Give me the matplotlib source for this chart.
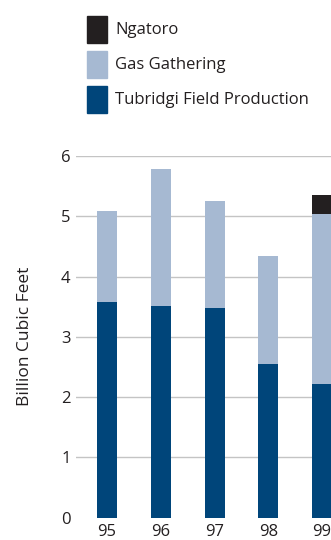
import matplotlib
matplotlib.use("Agg")
import matplotlib.pyplot as plt
from matplotlib.patches import Rectangle

years = ["95", "96", "97", "98", "99"]
tubridgi = [3.57, 3.51, 3.47, 2.54, 2.22]
gas_gathering = [1.52, 2.27, 1.78, 1.80, 2.81]
ngatoro = [0.0, 0.0, 0.0, 0.0, 0.32]
yticks = [0, 1, 2, 3, 4, 5, 6]

c_tub = "#00457a"
c_gas = "#a6b9d2"
c_nga = "#231f20"

plt.rcParams['font.family'] = ['Open Sans', 'DejaVu Sans']

W, H = 331, 540
fig = plt.figure(figsize=(W / 100, H / 100), dpi=100)
ax = fig.add_axes([76 / W, 22.5 / H, 1 - 76 / W, (517.5 - 156) / H])

x = list(range(len(years)))
w = 0.372
bottom2 = tubridgi
bottom3 = [a + b for a, b in zip(tubridgi, gas_gathering)]
ax.bar(x, tubridgi, width=w, color=c_tub, zorder=3)
ax.bar(x, gas_gathering, width=w, bottom=bottom2, color=c_gas, zorder=3)
ax.bar(x, ngatoro, width=w, bottom=bottom3, color=c_nga, zorder=3)

ax.set_xlim(-0.577, 4.167)
ax.set_ylim(0, 6)
ax.set_yticks(yticks)
ax.set_yticklabels([str(t) for t in yticks], fontsize=12, color="#231f20")
ax.set_xticks(x)
ax.set_xticklabels(years, fontsize=12, color="#231f20")
ax.tick_params(axis='x', length=0, pad=5)
ax.tick_params(axis='y', length=0, pad=4)
for t in yticks[1:]:
    ax.axhline(t, color="#c4c4c4", lw=1.0, zorder=1)
for s in ax.spines.values():
    s.set_visible(False)
ax.set_ylabel("Billion Cubic Feet", fontsize=12.5, color="#231f20")
ax.yaxis.set_label_coords(-0.17, 0.5)

# legend
items = [("Ngatoro", c_nga), ("Gas Gathering", c_gas), ("Tubridgi Field Production", c_tub)]
tops = [16, 51, 86]
for (lab, col), top in zip(items, tops):
    fig.patches.append(Rectangle((87 / W, 1 - (top + 27) / H), 20 / W, 27 / H,
                                 transform=fig.transFigure, color=col))
    fig.text(115 / W, 1 - (top + 14) / H, lab, fontsize=12, color="#231f20",
             va="center", ha="left")

fig.savefig("out.png", dpi=100)
